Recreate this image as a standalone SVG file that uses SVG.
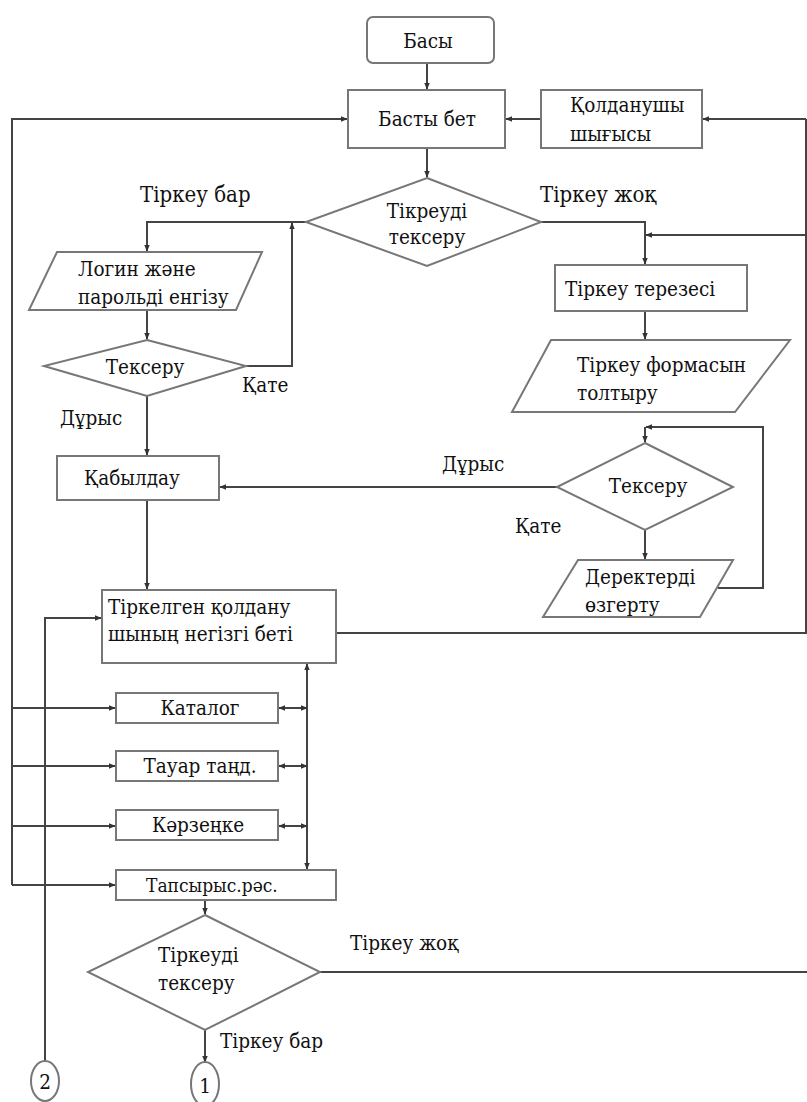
<svg xmlns="http://www.w3.org/2000/svg" width="807" height="1102" viewBox="0 0 807 1102">
<defs>
<marker id="ar" viewBox="0 0 10 10" refX="9" refY="5" markerWidth="7" markerHeight="7" orient="auto-start-reverse" markerUnits="userSpaceOnUse">
<path d="M0,1 L10,5 L0,9 z" fill="#333"/>
</marker>
<style>
.n{fill:#fff;stroke:#777;stroke-width:2}
.c{fill:none;stroke:#444;stroke-width:2}
.a{marker-end:url(#ar)}
.t{font-family:'DejaVu Serif Condensed','DejaVu Serif',serif;font-stretch:condensed;font-size:20.5px;fill:#111}
.m{text-anchor:middle}
</style>
</defs>
<rect width="807" height="1102" fill="#fff"/>
<g id="connectors">
<line class="c a" x1="427" y1="63" x2="427" y2="89"/>
<line class="c a" x1="541" y1="119" x2="506" y2="119"/>
<polyline class="c" points="336,633 806,633 806,119"/>
<line class="c a" x1="806" y1="119" x2="703" y2="119"/>
<polyline class="c a" points="12,885 12,119 347,119"/>
<line class="c a" x1="427" y1="148" x2="427" y2="177"/>
<polyline class="c a" points="306,222 147,222 147,251"/>
<polyline class="c a" points="246,366 292,366 292,223"/>
<polyline class="c a" points="541,222 645,222 645,264"/>
<line class="c a" x1="806" y1="235" x2="646" y2="235"/>
<line class="c a" x1="147" y1="310" x2="147" y2="339"/>
<line class="c a" x1="147" y1="396" x2="147" y2="455"/>
<line class="c a" x1="557" y1="487" x2="220" y2="487"/>
<line class="c a" x1="147" y1="500" x2="147" y2="589"/>
<line class="c a" x1="645" y1="311" x2="645" y2="339"/>
<polyline class="c a" points="718,588 763,588 763,427 646,427"/>
<line class="c a" x1="645" y1="427" x2="645" y2="442"/>
<line class="c a" x1="645" y1="530" x2="645" y2="559"/>
<polyline class="c a" points="45,1061 45,618 101,618"/>
<line class="c a" x1="12" y1="708" x2="115" y2="708"/>
<line class="c a" x1="12" y1="766" x2="115" y2="766"/>
<line class="c a" x1="12" y1="826" x2="115" y2="826"/>
<line class="c a" x1="12" y1="885" x2="115" y2="885"/>
<line class="c a" x1="307" y1="760" x2="307" y2="664"/>
<line class="c a" x1="307" y1="760" x2="307" y2="869"/>
<line class="c a" x1="293" y1="708" x2="279" y2="708"/>
<line class="c a" x1="293" y1="708" x2="307" y2="708"/>
<line class="c a" x1="293" y1="766" x2="279" y2="766"/>
<line class="c a" x1="293" y1="766" x2="307" y2="766"/>
<line class="c a" x1="293" y1="826" x2="279" y2="826"/>
<line class="c a" x1="293" y1="826" x2="307" y2="826"/>
<line class="c a" x1="205" y1="900" x2="205" y2="914"/>
<line class="c" x1="320" y1="972" x2="807" y2="972"/>
<line class="c a" x1="205" y1="1030" x2="205" y2="1062"/>
</g>
<g id="labels">
<text class="t" x="140" y="202" style="font-size:22px">Тіркеу бар</text>
<text class="t" x="540" y="202" style="font-size:22px">Тіркеу жоқ</text>
<text class="t" x="242" y="392">Қате</text>
<text class="t" x="60" y="425">Дұрыс</text>
<text class="t" x="442" y="471">Дұрыс</text>
<text class="t" x="515" y="533">Қате</text>
<text class="t" x="350" y="950">Тіркеу жоқ</text>
<text class="t" x="220" y="1048">Тіркеу бар</text>
</g>
<g id="basy"><rect class="n" x="367" y="17" width="127" height="46" rx="6"/><text class="t m" x="428" y="48">Басы</text></g>
<g id="basty-bet"><rect class="n" x="348" y="90" width="157" height="58"/><text class="t m" x="427" y="126">Басты бет</text></g>
<g id="qoldanushy-shygysy"><rect class="n" x="541" y="90" width="161" height="58"/><text class="t" x="570" y="112">Қолданушы</text><text class="t" x="570" y="141">шығысы</text></g>
<g id="tirkeu-check-1"><polygon class="n" points="427,178 541,222 427,266 306,222"/><text class="t m" x="427" y="218">Тікреуді</text><text class="t m" x="427" y="244">тексеру</text></g>
<g id="login"><polygon class="n" points="57,252 262,252 236,310 29,310"/><text class="t" x="78" y="276">Логин және</text><text class="t" x="78" y="304">парольді енгізу</text></g>
<g id="tekseru-1"><polygon class="n" points="147,340 246,366 147,396 44,366"/><text class="t m" x="145" y="374">Тексеру</text></g>
<g id="qabyldau"><rect class="n" x="57" y="456" width="162" height="44"/><text class="t" x="84" y="485">Қабылдау</text></g>
<g id="tirkeu-terezesi"><rect class="n" x="555" y="265" width="192" height="46"/><text class="t" x="565" y="296">Тіркеу терезесі</text></g>
<g id="tirkeu-formasy"><polygon class="n" points="551,340 790,340 735,412 512,412"/><text class="t" x="577" y="372">Тіркеу формасын</text><text class="t" x="577" y="400">толтыру</text></g>
<g id="tekseru-2"><polygon class="n" points="645,443 733,487 645,530 557,487"/><text class="t m" x="648" y="493">Тексеру</text></g>
<g id="derekterdi"><polygon class="n" points="578,560 733,560 700,617 543,617"/><text class="t" x="585" y="584">Деректерді</text><text class="t" x="585" y="612">өзгерту</text></g>
<g id="tirkelgen"><rect class="n" x="102" y="590" width="234" height="73"/><text class="t" x="108" y="614">Тіркелген қолдану</text><text class="t" x="108" y="641">шының  негізгі беті</text></g>
<g id="katalog"><rect class="n" x="116" y="693" width="162" height="30"/><text class="t m" x="200" y="715">Каталог</text></g>
<g id="tauar"><rect class="n" x="116" y="751" width="162" height="30"/><text class="t m" x="200" y="773">Тауар таңд.</text></g>
<g id="karzenke"><rect class="n" x="116" y="810" width="162" height="30"/><text class="t m" x="198" y="832">Кәрзеңке</text></g>
<g id="tapsyrys"><rect class="n" x="116" y="870" width="220" height="30"/><text class="t" x="146" y="892" style="font-size:19px">Тапсырыс.рәс.</text></g>
<g id="tirkeu-check-2"><polygon class="n" points="205,915 320,972 205,1030 88,972"/><text class="t" x="158" y="962">Тіркеуді</text><text class="t" x="158" y="990">тексеру</text></g>
<g id="conn-2"><ellipse class="n" cx="45" cy="1081" rx="14" ry="20"/><text class="t m" x="45" y="1089">2</text></g>
<g id="conn-1"><ellipse class="n" cx="205" cy="1084" rx="14" ry="22"/><text class="t m" x="205" y="1093">1</text></g>
</svg>
